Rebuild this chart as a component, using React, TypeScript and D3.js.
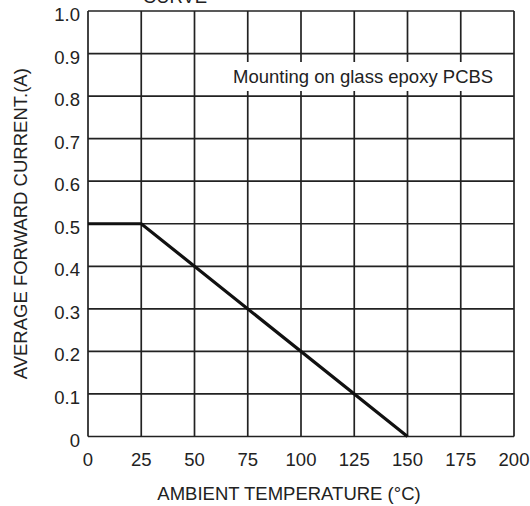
import React from "react";
import * as d3 from "d3";

const xTicks = [0, 25, 50, 75, 100, 125, 150, 175, 200];
const yTicks = [0, 0.1, 0.2, 0.3, 0.4, 0.5, 0.6, 0.7, 0.8, 0.9, 1.0];
const yTickLabels = ["0", "0.1", "0.2", "0.3", "0.4", "0.5", "0.6", "0.7", "0.8", "0.9", "1.0"];
const tempValues = [0, 25, 150];
const currentValues = [0.5, 0.5, 0];
const titleText = "CURVE";
const noteText = "Mounting on glass epoxy PCBS";
const xTitle = "AMBIENT TEMPERATURE (\u00B0C)";
const yTitle = "AVERAGE FORWARD CURRENT.(A)";

export default function App() {
  const W = 530, H = 506;
  const x = d3.scaleLinear().domain([0, 200]).range([88, 514]);
  const y = d3.scaleLinear().domain([0, 1]).range([436.5, 11]);
  const font = "Arial, 'Liberation Sans', Helvetica, sans-serif";
  const fs = 18.5;
  const pts = tempValues.map((t, i) => [t, currentValues[i]] as [number, number]);
  const line = d3.line<[number, number]>().x(d => x(d[0])).y(d => y(d[1]));
  const gridColor = "#222";
  return (
    <svg width={W} height={H} style={{ position: "absolute", left: 0, top: 0, background: "#fff" }} fontFamily={font}>
      <text x={175} y={3} textAnchor="middle" fontSize={fs} fill="#222">{titleText}</text>
      {xTicks.map(t => (
        <line key={"vx" + t} x1={x(t)} x2={x(t)} y1={y(0)} y2={y(1)} stroke={gridColor} strokeWidth={1.7} />
      ))}
      {yTicks.map(t => (
        <line key={"hy" + t} x1={x(0)} x2={x(200)} y1={y(t)} y2={y(t)} stroke={gridColor} strokeWidth={1.7} />
      ))}
      <rect x={228} y={62} width={272} height={29} fill="#fff" />
      <text x={233} y={82.5} fontSize={fs} fill="#222">{noteText}</text>
      <path d={line(pts) || ""} fill="none" stroke="#111" strokeWidth={3.2} />
      {yTicks.map((t, i) => (
        <text key={"yl" + t} x={80} y={y(t) + 10} textAnchor="end" fontSize={fs} fill="#222">{yTickLabels[i]}</text>
      ))}
      {xTicks.map(t => (
        <text key={"xl" + t} x={x(t)} y={466} textAnchor="middle" fontSize={fs} fill="#222">{t}</text>
      ))}
      <text x={289} y={500} textAnchor="middle" fontSize={fs} fill="#222">{xTitle}</text>
      <text transform={`translate(27, ${(y(0) + y(1)) / 2}) rotate(-90)`} textAnchor="middle" fontSize={fs} fill="#222">{yTitle}</text>
    </svg>
  );
}
